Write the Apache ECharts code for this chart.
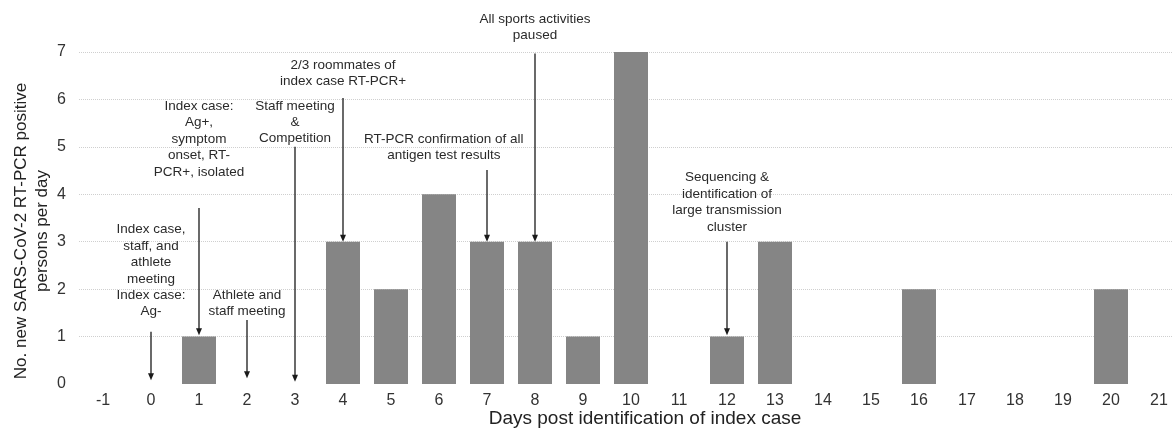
<!DOCTYPE html>
<html>
<head>
<meta charset="utf-8">
<script src="https://cdn.jsdelivr.net/npm/echarts@6/dist/echarts.min.js"></script>
<style>
html,body{margin:0;padding:0;background:#fff;}
#chart{width:1172px;height:428px;}
</style>
</head>
<body>
<div id="chart"></div>
<script>
// Data
var days = [-1,0,1,2,3,4,5,6,7,8,9,10,11,12,13,14,15,16,17,18,19,20,21];
var cases = [0,0,1,0,0,3,2,4,3,3,1,7,0,1,3,0,0,2,0,0,0,2,0];
var yTicks = [0,1,2,3,4,5,6,7];
// Annotations: day of arrow, arrow start value, arrow tip value, text centre day, last-line value
var annDays   = [0, 1, 2, 3, 4, 7, 8, 12];
var annTop    = [1.10, 3.71, 1.35, 5.0, 6.03, 4.51, 6.97, 3.0];
var annTip    = [0.08, 1.03, 0.12, 0.05, 3.0, 3.0, 3.0, 1.03];
var annTextX  = [0, 1, 2, 3, 4, 6.1, 8, 12];
var annTextY  = [1.52, 4.47, 1.52, 5.17, 6.37, 4.81, 7.34, 3.31];
var annTexts  = [
  'Index case,\nstaff, and\nathlete\nmeeting\nIndex case:\nAg-',
  'Index case:\nAg+,\nsymptom\nonset, RT-\nPCR+, isolated',
  'Athlete and\nstaff meeting',
  'Staff meeting\n&\nCompetition',
  '2/3 roommates of\nindex case RT-PCR+',
  'RT-PCR confirmation of all\nantigen test results',
  'All sports activities\npaused',
  'Sequencing &\nidentification of\nlarge transmission\ncluster'
];

var cats = days.map(String);
var annData = annDays.map(function(d, i){
  return [String(d), annTop[i], annTip[i], annTextX[i] - d, annTextY[i], i];
});

var chart = echarts.init(document.getElementById('chart'));
var font = '"Liberation Sans", Arial, Helvetica, sans-serif';
chart.setOption({
  animation: false,
  grid: {left: 79, right: -11, top: 52, bottom: 44, containLabel: false, outerBoundsMode: 'none'},
  xAxis: {
    type: 'category',
    data: cats,
    axisLine: {show: false},
    axisTick: {show: false},
    axisLabel: {color: '#333', fontSize: 16, fontFamily: font, margin: 9},
    name: 'Days post identification of index case',
    nameLocation: 'middle',
    nameGap: 25,
    nameMoveOverlap: false,
    nameTextStyle: {color: '#222', fontSize: 19, fontFamily: font, padding: [0, 0, 0, 28]}
  },
  yAxis: {
    type: 'value',
    min: 0, max: 7, interval: 1,
    axisLine: {show: false},
    axisTick: {show: false},
    axisLabel: {color: '#333', fontSize: 16, fontFamily: font, margin: 13,
      formatter: function(v){ return yTicks.indexOf(v) >= 0 ? String(v) : ''; }},
    splitLine: {show: true, lineStyle: {type: 'dotted', width: 1,
      color: ['rgba(0,0,0,0)','#cfcfcf','#cfcfcf','#cfcfcf','#cfcfcf','#cfcfcf','#cfcfcf','#cfcfcf']}},
    name: 'No. new SARS-CoV-2 RT-PCR positive\npersons per day',
    nameLocation: 'middle',
    nameGap: 26,
    nameMoveOverlap: false,
    nameTextStyle: {color: '#222', fontSize: 17, fontFamily: font, lineHeight: 21, padding: [0, 26, 0, 0]}
  },
  series: [
    {
      type: 'bar',
      data: cases,
      barWidth: 34,
      itemStyle: {color: '#858585'}
    },
    {
      type: 'custom',
      clip: false,
      z: 5,
      data: annData,
      renderItem: function(params, api){
        var top = api.coord([api.value(0), api.value(1)]);
        var tip = api.coord([api.value(0), api.value(2)]);
        var band = api.size([1, 0])[0];
        var tp = api.coord([api.value(0), api.value(4)]);
        var tx = top[0] + api.value(3) * band;
        var idx = api.value(5);
        var ah = 7, aw = 3;
        return {
          type: 'group',
          children: [
            {type: 'line', shape: {x1: top[0], y1: top[1], x2: tip[0], y2: tip[1] - ah + 1},
             style: {stroke: '#1a1a1a', lineWidth: 1.3}},
            {type: 'polygon', shape: {points: [[tip[0] - aw, tip[1] - ah], [tip[0] + aw, tip[1] - ah], [tip[0], tip[1]]]},
             style: {fill: '#1a1a1a'}},
            {type: 'text', x: tx, y: tp[1] + 8,
             style: {text: annTexts[idx], align: 'center', verticalAlign: 'bottom',
               fontSize: 13.5, lineHeight: 16.4, fontFamily: font, fill: '#2a2a2a'}}
          ]
        };
      }
    }
  ]
});
</script>
</body>
</html>
